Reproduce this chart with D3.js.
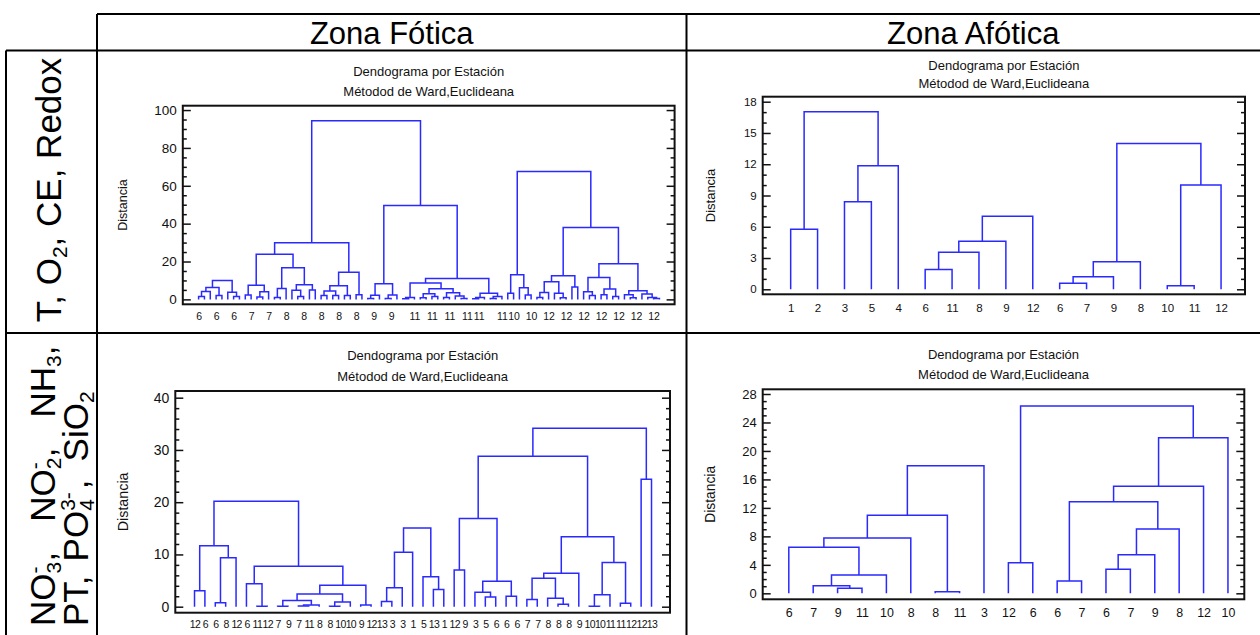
<!DOCTYPE html>
<html>
<head>
<meta charset="utf-8">
<script src="https://cdn.jsdelivr.net/npm/d3@7"></script>
<style>
  html, body { margin: 0; padding: 0; background: #fff; }
  svg { display: block; font-family: "Liberation Sans", Arial, sans-serif; }
</style>
</head>
<body>
<svg id="chart" width="1260" height="635"></svg>
<script>
// ---------------------------------------------------------------
// Data: leaf (station) labels and merge trees for each dendrogram.
// A merge is [distance, left, right]; a bare number is a leaf index.
// ---------------------------------------------------------------

// Zona Fótica — T, O2, CE, Redox
const tlLeafLabels = [
  "6","","","6","","","6","","","7",
  "","","7","","","8","","","8","",
  "","8","","","8","","","8","","",
  "9","","","9","","","","11","","",
  "11","","","11","","","11","","11","",
  "","","11","","10","","","10","","",
  "12","","","12","","","12","","","12",
  "","","12","","","12","","","12",""
];
const tlTrees = [
  [10, [6.3, [4.2, [1.5, 0, 1], 2], [2, 3, 4]], [3.7, 5, [1.5, 6, 7]]],
  [94.4,
    [29.9,
      [23.8, [7.4, [2.3, 8, 9], [4, [1.2, 10, 11], 12]],
             [16.7, [5.8, [1, 13, 14], 15], [7.7, [4.8, 16, [1.5, 17, 18]], [5, 19, 20]]]],
      [14.3, [7.2, [4.4, [2, 21, 22], [2, 23, 24]], [2, 25, 26]], [2.5, 27, 28]]],
    [49.6,
      [8.3, [2.2, [0.4, 29, 30], 31], [2.3, [0.5, 32, 33], 34]],
      [11, [8.6, [1, [0.3, 35, 36], 37],
                 [5.6, [3, [0.8, 38, 39], [1.5, 40, 41]], [3.5, [1, 42, 43], [1.8, 44, [0.5, 45, 46]]]]],
           [3.3, [1, [0.3, 47, 48], 49], [1.5, [0.5, 50, 51], 52]]]]],
  [67.6,
    [13, [3.3, 53, 54], [6.2, 55, [2.3, 56, 57]]],
    [38, [12.5, [9.3, [3.6, [1, 58, 59], 60], [3.2, 61, [0.8, 62, 63]]], [6.5, 64, 65]],
         [18.8, [11.6, [4, 66, [2, 67, 68]], [5.5, [2.5, 69, 70], [1.5, 71, 72]]],
                [4.5, [2.5, 73, [0.8, 74, 75]], [2.8, 76, [1, 77, [0.5, 78, 79]]]]]]]
];
const tlTicks = [0, 20, 40, 60, 80, 100];
const tlMinor = [5, 10, 15, 25, 30, 35, 45, 50, 55, 65, 70, 75, 85, 90, 95];

// Zona Afótica — T, O2, CE, Redox
const trLeafLabels = ["1","2","3","5","4","6","11","8","9","12","6","7","9","8","10","11","12"];
const trTrees = [
  [17.04, [5.75, 0, 1], [11.86, [8.41, 2, 3], 4]],
  [7.0, [4.6, [3.55, [1.89, 5, 6], 7], 8], 9],
  [14.0, [2.65, [1.21, [0.58, 10, 11], 12], 13], [10.0, [0.35, 14, 15], 16]]
];
const trTicks = [0, 3, 6, 9, 12, 15, 18];
const trMinor = [1, 2, 4, 5, 7, 8, 10, 11, 13, 14, 16, 17];

// Zona Fótica — nutrients
const blLeafLabels = [
  "12","6","6","8","12","6","11","12","7","9",
  "7","11","8","8","10","10","9","12","13","3",
  "3","1","5","13","1","12","9","3","5","6",
  "6","6","7","7","8","8","8","9","10","10",
  "11","11","12","12","13"
];
const blTrees = [
  [20.2,
    [11.67, [3.06, 0, 1], [9.38, [0.77, 2, 3], 4]],
    [7.72, [4.4, 5, [0.1, 6, 7]],
           [4.08, [2.42, [1.2, [0.1, 8, 9], [0.3, [0.15, 10, 11], 12]], [0.9, [0.1, 13, 14], 15]],
                  [0.3, 16, 17]]]],
  [15.06, [10.4, [3.64, [1.0, 18, 19], 20], 21], [5.74, 22, [3.3, 23, 24]]],
  [34.13,
    [28.77,
      [16.9, [7.0, 25, 26], [4.85, [2.74, 27, [1.85, 28, 29]], [1.98, 30, 31]]],
      [13.4, [6.38, [5.42, [1.4, 32, 33], [1.6, 34, [0.45, 35, 36]]], 37],
             [8.48, [2.3, [0.1, 38, 39], 40], [0.64, 41, 42]]]],
    [24.37, 43, 44]]
];
const blTicks = [0, 10, 20, 30, 40];
const blMinor = [2, 4, 6, 8, 12, 14, 16, 18, 22, 24, 26, 28, 32, 34, 36, 38];

// Zona Afótica — nutrients
const brLeafLabels = ["6","7","9","11","10","8","8","11","3","12","6","6","7","6","7","9","8","12","10"];
const brTrees = [
  [17.93, [10.96, [7.77, [6.46, 0, [2.57, [1.08, 1, [0.7, 2, 3]], 4]], 5], [0.23, 6, 7]], 8],
  [26.3, [4.31, 9, 10],
         [21.86, [15.03, [12.87, [1.73, 11, 12], [9.04, [5.43, [3.37, 13, 14], 15], 16]], 17], 18]]
];
const brTicks = [0, 4, 8, 12, 16, 20, 24, 28];
const brMinor = [1, 2, 3, 5, 6, 7, 9, 10, 11, 13, 14, 15, 17, 18, 19, 21, 22, 23, 25, 26, 27];

const chartTitle = "Dendograma por Estación";
const chartSubtitle = "Métodod de Ward,Euclideana";
const yAxisTitle = "Distancia";
const columnHeaders = ["Zona Fótica", "Zona Afótica"];

// ---------------------------------------------------------------
// Layout of the four panels
// ---------------------------------------------------------------
const panels = [
  { labels: tlLeafLabels, trees: tlTrees, ticks: tlTicks, minor: tlMinor,
    frame: { x0: 182.8, x1: 674.6, y0: 105.7, y1: 304.3 },
    xDom: [-2.71, 81.6], yDom: [-2.6, 102.3],
    titleY: 71, subY: 91.7, yTitleX: 122.6, yTitleFs: 12.5,
    tickFs: 13.5, leafFs: 10.5, leafPad: 8.7, leafSpacing: 0 },
  { labels: trLeafLabels, trees: trTrees, ticks: trTicks, minor: trMinor,
    frame: { x0: 762.7, x1: 1245, y0: 96.7, y1: 294.3 },
    xDom: [-1.04, 16.89], yDom: [-0.48, 18.48],
    titleY: 65, subY: 83.3, yTitleX: 710.7, yTitleFs: 13,
    tickFs: 11.5, leafFs: 11.5, leafPad: 9.7, leafSpacing: 0 },
  { labels: blLeafLabels, trees: blTrees, ticks: blTicks, minor: blMinor,
    frame: { x0: 175.3, x1: 670, y0: 391, y1: 612.7 },
    xDom: [-1.85, 45.78], yDom: [-1.15, 41.28],
    titleY: 355, subY: 376.7, yTitleX: 123.3, yTitleFs: 14.3,
    tickFs: 14, leafFs: 10.5, leafPad: 7.8, leafSpacing: -0.7 },
  { labels: brLeafLabels, trees: brTrees, ticks: brTicks, minor: brMinor,
    frame: { x0: 762.7, x1: 1244.3, y0: 389.3, y1: 599.3 },
    xDom: [-1.07, 18.67], yDom: [-0.84, 28.66],
    titleY: 354, subY: 374, yTitleX: 710, yTitleFs: 13.8,
    tickFs: 13, leafFs: 12.4, leafPad: 9.1, leafSpacing: 0 }
];

const svg = d3.select("#chart");
const LINE = "#2a2aff";
const INK = "#111";

// ---------------------------------------------------------------
// Table grid
// ---------------------------------------------------------------
const grid = svg.append("g").attr("stroke", "#000").attr("stroke-width", 2);
const gridLines = [
  [97, 14, 1260, 14],      // top of header row
  [97, 14, 97, 635],       // left edge of the chart columns
  [686.5, 14, 686.5, 635], // column divider
  [6, 50.5, 1260, 50.5],   // under header row
  [6, 333, 1260, 333],     // row divider
  [6, 50.5, 6, 635]        // outer left edge
];
grid.selectAll("line").data(gridLines).join("line")
  .attr("x1", d => d[0]).attr("y1", d => d[1])
  .attr("x2", d => d[2]).attr("y2", d => d[3]);

// column headers
svg.selectAll("text.colhead").data(columnHeaders).join("text")
  .attr("class", "colhead")
  .attr("x", (d, i) => i === 0 ? (97 + 686.5) / 2 : (686.5 + 1260) / 2)
  .attr("y", 43.5)
  .attr("text-anchor", "middle")
  .attr("font-size", 31)
  .attr("fill", "#000")
  .text(d => d);

// ---------------------------------------------------------------
// Rotated row labels with sub/superscripts
// ---------------------------------------------------------------
function richLabel(cx, cy, anchor, parts, fs) {
  const g = svg.append("g").attr("transform", `translate(${cx},${cy}) rotate(-90)`);
  const t = g.append("text").attr("font-size", fs).attr("fill", "#000")
    .attr("text-anchor", anchor);
  let shift = 0, lastWidth = 0;
  parts.forEach(([str, kind, extra]) => {
    const sp = t.append("tspan").text(str);
    let target = 0, size = fs;
    if (kind === "sub") { target = 0.18 * fs; size = 0.6 * fs; }
    if (kind === "sup") { target = -0.36 * fs; size = 0.6 * fs; }
    sp.attr("font-size", size).attr("dy", target - shift);
    shift = target;
    let dx = 0;
    if (kind === "sup" && extra === "stack") dx -= lastWidth;
    if (kind === "n" && extra) dx += extra;
    if (dx) sp.attr("dx", dx);
    lastWidth = sp.node().getComputedTextLength();
  });
  return t;
}

richLabel(60.5, 190, "middle", [
  ["T, O", "n"], ["2", "sub"], [", CE, Redox", "n"]
], 35);

richLabel(55, 626, "start", [
  ["NO", "n"], ["3", "sub"], ["-", "sup", "stack"], [",", "n", 5],
  ["NO", "n", 30], ["2", "sub"], ["-", "sup", "stack"], [",", "n", 5],
  ["NH", "n", 30], ["3", "sub"], [",", "n"]
], 35);

richLabel(87.5, 626, "start", [
  ["PT,", "n"], ["PO", "n", 14], ["4", "sub"], ["3-", "sup", "stack"], [",", "n", 3],
  ["SiO", "n", 18], ["2", "sub"]
], 35);

// ---------------------------------------------------------------
// Dendrogram panels
// ---------------------------------------------------------------
panels.forEach(p => {
  const f = p.frame;
  const x = d3.scaleLinear().domain(p.xDom).range([f.x0, f.x1]);
  const y = d3.scaleLinear().domain(p.yDom).range([f.y1, f.y0]);
  const g = svg.append("g");
  const cx = (f.x0 + f.x1) / 2;

  // titles
  g.append("text").attr("x", cx).attr("y", p.titleY)
    .attr("text-anchor", "middle").attr("dominant-baseline", "central")
    .attr("font-size", 13).attr("fill", "#111").text(chartTitle);
  g.append("text").attr("x", cx).attr("y", p.subY)
    .attr("text-anchor", "middle").attr("dominant-baseline", "central")
    .attr("font-size", 13).attr("fill", "#111").text(chartSubtitle);

  // y-axis title
  g.append("text")
    .attr("transform", `translate(${p.yTitleX},${(f.y0 + f.y1) / 2}) rotate(-90)`)
    .attr("text-anchor", "middle").attr("dominant-baseline", "central")
    .attr("font-size", p.yTitleFs).attr("fill", "#111").text(yAxisTitle);

  // dendrogram links
  const links = g.append("g").attr("fill", "none").attr("stroke", LINE)
    .attr("stroke-width", 1.5).attr("stroke-linejoin", "miter");
  function walk(node) {
    if (typeof node === "number") return { px: x(node), h: 0 };
    const [h, a, b] = node;
    const A = walk(a), B = walk(b);
    const path = d3.path();
    path.moveTo(A.px, y(A.h));
    path.lineTo(A.px, y(h));
    path.lineTo(B.px, y(h));
    path.lineTo(B.px, y(B.h));
    links.append("path").attr("d", path.toString());
    return { px: (A.px + B.px) / 2, h };
  }
  p.trees.forEach(walk);

  // y axes: labelled major ticks on the left, inward ticks on both sides
  const left = g.append("g").attr("transform", `translate(${f.x0},0)`)
    .call(d3.axisLeft(y).tickValues(p.ticks).tickSize(-8).tickPadding(6));
  left.select(".domain").remove();
  left.selectAll("text").attr("font-size", p.tickFs).attr("fill", "#111")
    .attr("font-family", "Liberation Sans, Arial, sans-serif");
  const leftMinor = g.append("g").attr("transform", `translate(${f.x0},0)`)
    .call(d3.axisLeft(y).tickValues(p.minor).tickSize(-4).tickFormat(""));
  leftMinor.select(".domain").remove();
  const right = g.append("g").attr("transform", `translate(${f.x1},0)`)
    .call(d3.axisRight(y).tickValues(p.ticks).tickSize(-8).tickFormat(""));
  right.select(".domain").remove();
  const rightMinor = g.append("g").attr("transform", `translate(${f.x1},0)`)
    .call(d3.axisRight(y).tickValues(p.minor).tickSize(-4).tickFormat(""));
  rightMinor.select(".domain").remove();
  g.selectAll(".tick line").attr("stroke", INK).attr("stroke-width", 1.5);

  // leaf labels along the bottom
  const leafIdx = p.labels.map((d, i) => i).filter(i => p.labels[i] !== "");
  const bottom = g.append("g").attr("transform", `translate(0,${f.y1})`)
    .call(d3.axisBottom(x).tickValues(leafIdx).tickSize(0).tickPadding(p.leafPad)
      .tickFormat(i => p.labels[i]));
  bottom.select(".domain").remove();
  bottom.selectAll("text").attr("font-size", p.leafFs).attr("fill", "#111")
    .attr("letter-spacing", p.leafSpacing)
    .attr("font-family", "Liberation Sans, Arial, sans-serif");

  // plot frame
  g.append("rect").attr("x", f.x0).attr("y", f.y0)
    .attr("width", f.x1 - f.x0).attr("height", f.y1 - f.y0)
    .attr("fill", "none").attr("stroke", INK).attr("stroke-width", 2);
});
</script>
</body>
</html>
